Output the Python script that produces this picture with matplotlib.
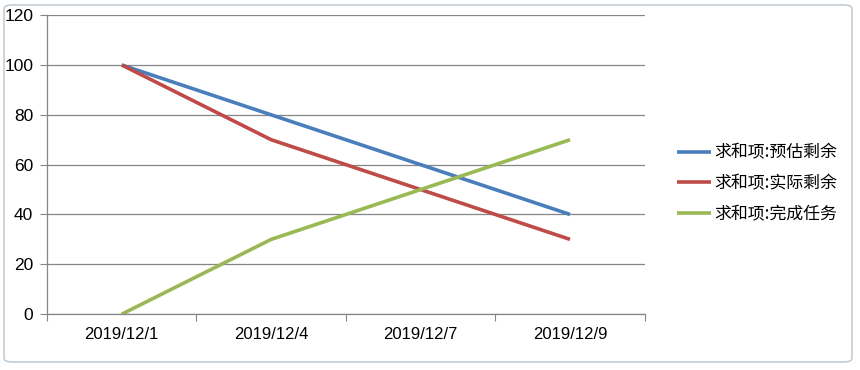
import matplotlib.pyplot as plt
import numpy as np
from matplotlib.patches import FancyBboxPatch

plt.rcParams['font.family'] = ['Noto Sans CJK SC', 'DejaVu Sans']

# data
dates = ['2019/12/1', '2019/12/4', '2019/12/7', '2019/12/9']
est_left = [100, 80, 60, 40]
act_left = [100, 70, 50, 30]
done = [0, 30, 50, 70]
names = ['求和项:预估剩余', '求和项:实际剩余', '求和项:完成任务']
colors = ['#4A7EBB', '#BE4B48', '#98B954']

fig = plt.figure(figsize=(8.6, 3.7), dpi=100)
fig.patch.set_facecolor('white')

# chart border
border = FancyBboxPatch((0.0047, 0.0216), 0.986, 0.965, boxstyle='round,pad=0,rounding_size=0.01',
                        transform=fig.transFigure, fill=False, edgecolor='#B8C4CE', linewidth=1.0)
fig.patches.append(border)

ax = fig.add_axes([0.0547, 0.151, 0.695, 0.808])
x = np.arange(len(dates))
for y, name, c in zip([est_left, act_left, done], names, colors):
    ax.plot(x, y, color=c, linewidth=2.6, label=name, solid_capstyle='butt')

ax.set_xlim(-0.5, len(dates) - 0.5)
ax.set_ylim(0, 120)
ax.set_yticks(range(0, 121, 20))
ax.yaxis.grid(True, color='#868686', linewidth=0.9)
ax.set_axisbelow(True)

ax.set_xticks(np.arange(-0.5, len(dates)), minor=False)
ax.set_xticklabels([])
ax.set_xticks(x, minor=True)
ax.set_xticklabels(dates, minor=True, fontsize=12, family=['Liberation Sans', 'DejaVu Sans'])
ax.tick_params(axis='x', which='major', length=5, color='#868686', direction='out')
ax.tick_params(axis='x', which='minor', length=0, pad=9)
ax.tick_params(axis='y', length=5, color='#868686', labelsize=12.5, pad=5)
for lab in ax.get_yticklabels():
    lab.set_family(['Liberation Sans', 'DejaVu Sans'])

for s in ['top', 'right']:
    ax.spines[s].set_visible(False)
for s in ['left', 'bottom']:
    ax.spines[s].set_color('#868686')
    ax.spines[s].set_linewidth(0.9)

ax.legend(loc='center left', bbox_to_anchor=(1.028, 0.438), frameon=False, fontsize=12.2,
          handlelength=2.0, handletextpad=0.2, labelspacing=0.75)

fig.savefig('out.png', dpi=100)
